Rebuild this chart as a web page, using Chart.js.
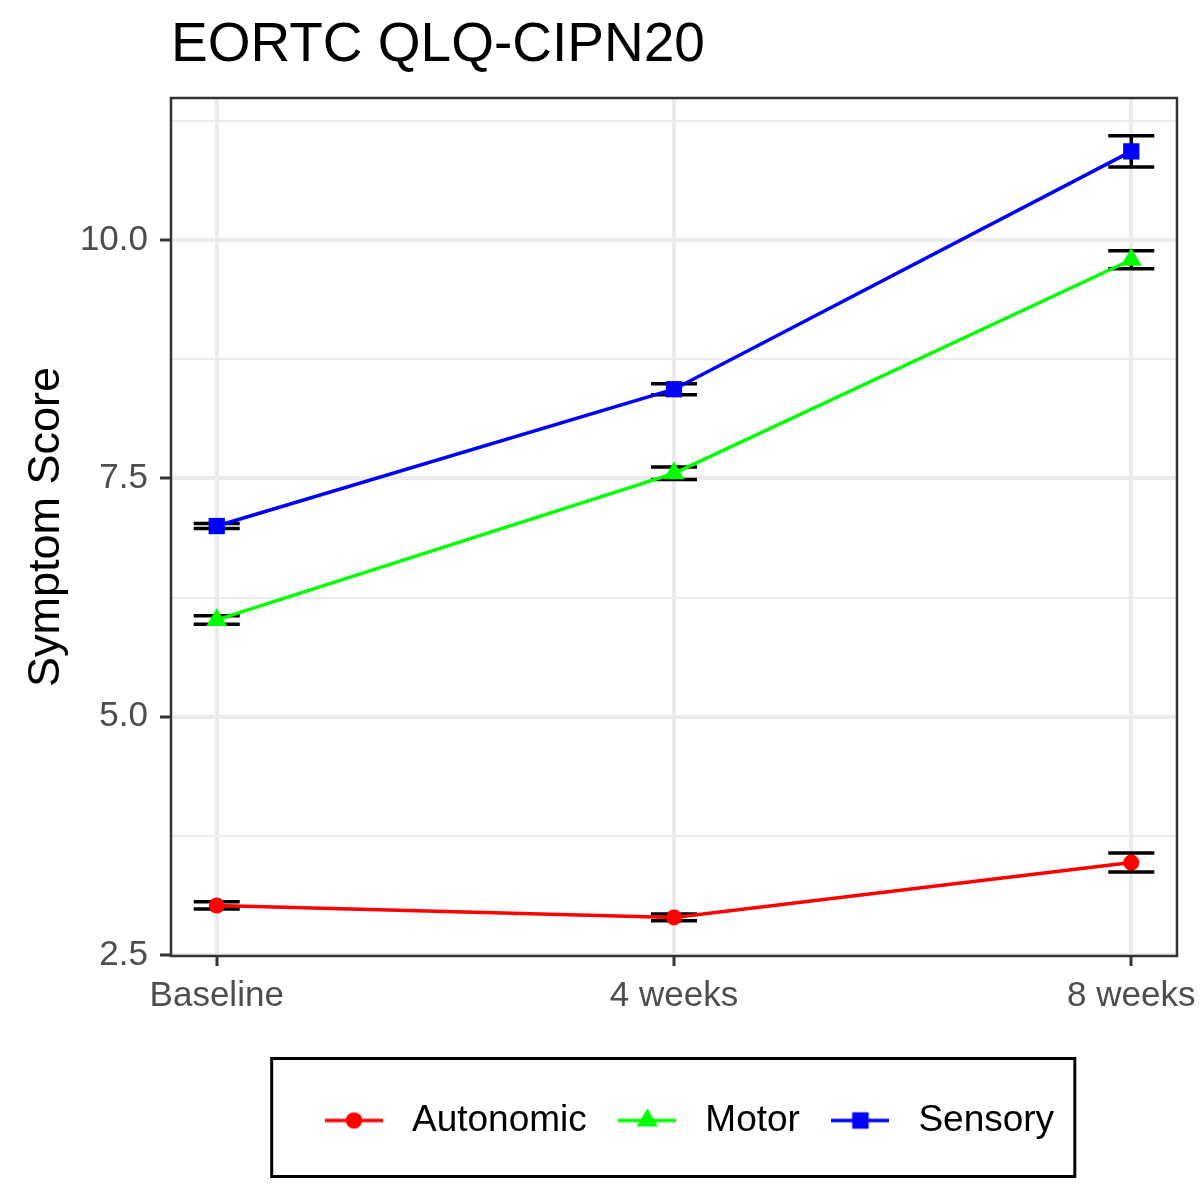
<!DOCTYPE html>
<html>
<head>
<meta charset="utf-8">
<script src="https://cdn.jsdelivr.net/npm/chart.js@4/dist/chart.umd.min.js"></script>
<style>
  html, body { margin: 0; padding: 0; background: #ffffff; }
  canvas { display: block; }
</style>
</head>
<body>
<canvas id="c" width="1200" height="1200"></canvas>
<script>
// ---- data ----
const categories = ['Baseline', '4 weeks', '8 weeks'];
const seriesNames = ['Autonomic', 'Motor', 'Sensory'];
const autonomic = [3.02, 2.895, 3.47];
const autonomicErr = [0.038, 0.035, 0.10];
const motor = [6.015, 7.553, 9.793];
const motorErr = [0.044, 0.066, 0.094];
const sensory = [7.0, 8.435, 10.93];
const sensoryErr = [0.026, 0.058, 0.164];
const yTicks = [2.5, 3.75, 5.0, 6.25, 7.5, 8.75, 10.0, 11.25];
const yMajor = [2.5, 5.0, 7.5, 10.0];
const xTicks = [0, 1, 2];

const colors = ['#FF0000', '#00FF00', '#0000FF'];
const styles = ['circle', 'triangle', 'rect'];
const radii = [8, 12, 11.5];
const values = [autonomic, motor, sensory];
const errors = [autonomicErr, motorErr, sensoryErr];

const FONT = '"Liberation Sans", Arial, Helvetica, sans-serif';
Chart.defaults.font.family = FONT;

const LEG_FONT = 37;
const LEG_BOX = 79;
const LEG_PAD = 21;
const GLYPH_W = 58;

function makeGlyph(color, style, r) {
  const cv = document.createElement('canvas');
  cv.width = GLYPH_W; cv.height = 28;
  const g = cv.getContext('2d');
  g.strokeStyle = color; g.lineWidth = 3.5;
  g.beginPath(); g.moveTo(0, 14); g.lineTo(GLYPH_W, 14); g.stroke();
  g.fillStyle = color;
  Chart.helpers.drawPoint(g, { pointStyle: style, radius: r, borderWidth: 0, rotation: 0 }, GLYPH_W / 2, 14);
  g.fill();
  return cv;
}

const glyphs = seriesNames.map((n, i) => makeGlyph(colors[i], styles[i], radii[i]));

const datasets = seriesNames.map((name, i) => ({
  label: name,
  data: values[i].map((v, j) => ({ x: j, y: v })),
  err: errors[i],
  borderColor: colors[i],
  backgroundColor: colors[i],
  borderWidth: 3.5,
  pointStyle: styles[i],
  pointRadius: radii[i],
  pointHoverRadius: radii[i],
  pointBorderWidth: 0,
  tension: 0,
  fill: false
}));

const errorBarPlugin = {
  id: 'errorBars',
  beforeDatasetsDraw(chart) {
    const ctx = chart.ctx;
    const xs = chart.scales.x, ys = chart.scales.y;
    ctx.save();
    ctx.strokeStyle = '#000000';
    ctx.lineWidth = 3.5;
    chart.data.datasets.forEach(ds => {
      ds.data.forEach((p, j) => {
        const e = ds.err[j];
        const px = xs.getPixelForValue(p.x);
        const yt = ys.getPixelForValue(p.y + e);
        const yb = ys.getPixelForValue(p.y - e);
        const hw = 23;
        ctx.beginPath();
        ctx.moveTo(px - hw, yt); ctx.lineTo(px + hw, yt);
        ctx.moveTo(px - hw, yb); ctx.lineTo(px + hw, yb);
        ctx.moveTo(px, yt); ctx.lineTo(px, yb);
        ctx.stroke();
      });
    });
    ctx.restore();
  }
};

const borderPlugin = {
  id: 'panelBorder',
  beforeDraw(chart) {
    // position the legend row like the reference (content left edge)
    const lg = chart.legend;
    if (!lg || !lg.lineWidths) return;
    const desired = 325 - (LEG_BOX - GLYPH_W) / 2;
    const start = (lg.left + LEG_PAD + lg.right - lg.lineWidths[0]) / 2;
    const d = desired - start;
    lg.left += d; lg.right += d;
  },
  afterDatasetsDraw(chart) {
    const { left, top, right, bottom } = chart.chartArea;
    const ctx = chart.ctx;
    ctx.save();
    ctx.strokeStyle = '#333333';
    ctx.lineWidth = 2.5;
    ctx.strokeRect(left, top, right - left, bottom - top);
    ctx.restore();
  },
  afterDraw(chart) {
    const lg = chart.legend;
    if (!lg || !lg.legendHitBoxes || !lg.legendHitBoxes.length) return;
    const hb = lg.legendHitBoxes;
    const first = hb[0], last = hb[hb.length - 1];
    const l = first.left + (LEG_BOX - GLYPH_W) / 2 - 43;
    const r = last.left + last.width + 31;
    const cy = first.top + first.height / 2;
    const ctx = chart.ctx;
    ctx.save();
    ctx.strokeStyle = '#000000';
    ctx.lineWidth = 3;
    ctx.strokeRect(l, cy - 62, r - l, 118);
    ctx.restore();
  }
};

new Chart(document.getElementById('c'), {
  type: 'line',
  data: { datasets },
  plugins: [errorBarPlugin, borderPlugin],
  options: {
    responsive: false,
    animation: false,
    devicePixelRatio: 1,
    layout: { padding: { left: 0, right: 23, top: 0, bottom: 51 } },
    plugins: {
      tooltip: { enabled: false },
      title: {
        display: true,
        text: 'EORTC QLQ-CIPN20',
        align: 'start',
        fullSize: false,
        color: '#000000',
        font: { size: 55, weight: 'normal', family: FONT },
        padding: { top: 13, bottom: 19 }
      },
      legend: {
        display: true,
        position: 'bottom',
        fullSize: false,
        labels: {
          usePointStyle: true,
          pointStyleWidth: LEG_BOX,
          padding: LEG_PAD,
          color: '#000000',
          font: { size: LEG_FONT, family: FONT },
          generateLabels(chart) {
            return chart.data.datasets.map((ds, i) => ({
              text: ds.label,
              pointStyle: glyphs[i],
              fontColor: '#000000',
              hidden: false,
              datasetIndex: i,
              lineWidth: 0,
              strokeStyle: 'transparent',
              fillStyle: colors[i]
            }));
          }
        }
      }
    },
    scales: {
      x: {
        type: 'linear',
        min: -0.1,
        max: 2.1,
        afterBuildTicks(axis) { axis.ticks = xTicks.map(v => ({ value: v })); },
        afterFit(axis) { axis.height = 125; axis.paddingLeft = 0; axis.paddingRight = 0; },
        border: { display: false },
        grid: {
          color: '#EBEBEB',
          lineWidth: 4,
          tickColor: '#333333',
          tickWidth: 3,
          tickLength: 10
        },
        ticks: {
          autoSkip: false,
          maxRotation: 0,
          padding: 9,
          color: '#4D4D4D',
          font: { size: 35, family: FONT },
          callback: v => categories[v]
        }
      },
      y: {
        type: 'linear',
        min: 2.49,
        max: 11.49,
        afterBuildTicks(axis) { axis.ticks = yTicks.map(v => ({ value: v })); },
        afterFit(axis) { axis.width = 171; },
        border: { display: false },
        grid: {
          color: '#EBEBEB',
          lineWidth: c => (c.tick && yMajor.includes(c.tick.value)) ? 4 : 2,
          tickColor: c => (c.tick && yMajor.includes(c.tick.value)) ? '#333333' : 'rgba(0,0,0,0)',
          tickWidth: 3,
          tickLength: 11
        },
        ticks: {
          autoSkip: false,
          padding: 12,
          color: '#4D4D4D',
          font: { size: 35, family: FONT },
          callback: v => yMajor.includes(v) ? v.toFixed(1) : ''
        },
        title: {
          display: true,
          text: 'Symptom Score',
          color: '#000000',
          font: { size: 45, family: FONT },
          padding: { top: 20, bottom: 0 }
        }
      }
    }
  }
});
</script>
</body>
</html>
